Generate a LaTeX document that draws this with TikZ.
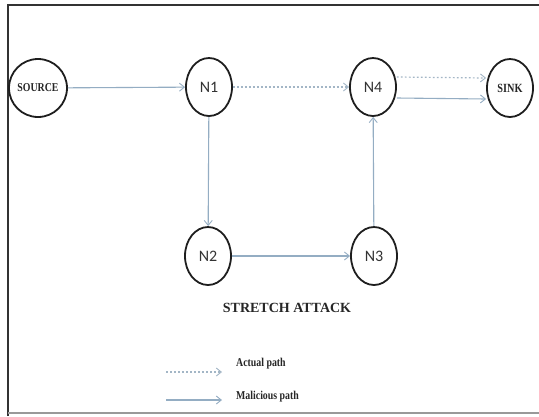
\documentclass[tikz,border=0pt]{standalone}
\usepackage{fontspec}
\setmainfont{Liberation Serif}
\newfontfamily\nodefont{Carlito}
\newfontfamily\condfont[FakeStretch=0.82]{Liberation Serif}
\usetikzlibrary{shapes.geometric,arrows.meta}
\definecolor{edgeblue}{HTML}{94ADC3}
\definecolor{dotblue}{HTML}{A3B6C6}
\definecolor{ringdark}{HTML}{1E1E1E}
\tikzset{
  vertex/.style={ellipse,draw=ringdark,line width=1.8pt,minimum width=46pt,minimum height=58pt,inner sep=0pt,fill=white},
  nlabel/.style={font=\nodefont\fontsize{16}{16}\selectfont,text=black!80},
  slabel/.style={font=\condfont\bfseries\fontsize{12}{12}\selectfont,text=black!85},
  mal/.style={draw=edgeblue,line width=1.1pt,-{Straight Barb[length=5pt,width=8pt,line width=0.9pt]}},
  act/.style={draw=dotblue,line width=1.2pt,dash pattern=on 1.8pt off 2.2pt,-{Straight Barb[length=5pt,width=8pt,line width=0.9pt]}},
  legtext/.style={anchor=west,font=\condfont\bfseries\fontsize{12}{12}\selectfont,inner sep=0pt,text=black!85},
}
\begin{document}
\begin{tikzpicture}[x=1pt,y=-1pt]
\useasboundingbox (0,0) rectangle (539,416);
\fill[white] (0,0) rectangle (539,416);
% frame
\draw[line width=2pt,draw=black!80] (8,416) -- (8,5) -- (539,5);
\draw[line width=1.5pt,draw=black!40] (8,413) -- (539,413);
% nodes
\node[vertex,slabel] (src) at (38,88) {SOURCE};
\node[vertex,nlabel] (n1) at (209,87) {N1};
\node[vertex,nlabel] (n4) at (373,87) {N4};
\node[vertex,slabel,font=\condfont\bfseries\fontsize{12.5}{12.5}\selectfont] (sink) at (510,88) {SINK};
\node[vertex,nlabel] (n2) at (208,256) {N2};
\node[vertex,nlabel] (n3) at (374,256) {N3};
% edges
\draw[mal] (src) -- (n1);
\draw[act] (n1) -- (n4);
\draw[act] ([yshift=10pt]n4.east) -- ([yshift=10pt]sink.west);
\draw[mal] ([yshift=-11pt]n4.east) -- ([yshift=-11pt]sink.west);
\draw[mal] (n1) -- (n2);
\draw[mal] (n2) -- (n3);
\draw[mal] (n3) -- (n4);
% title
\node[font=\bfseries\fontsize{14}{14}\selectfont,text=black!85] (title) at (287,308) {STRETCH ATTACK};
% legend
\coordinate (la1) at (166,372);
\coordinate (la2) at (222,372);
\coordinate (lm1) at (166,400);
\coordinate (lm2) at (222,400);
\draw[act] (la1) -- (la2);
\draw[mal] (lm1) -- (lm2);
\node[legtext] (lat) at (236,364) {Actual path};
\node[legtext] (lmt) at (236,397) {Malicious path};
\end{tikzpicture}
\end{document}
